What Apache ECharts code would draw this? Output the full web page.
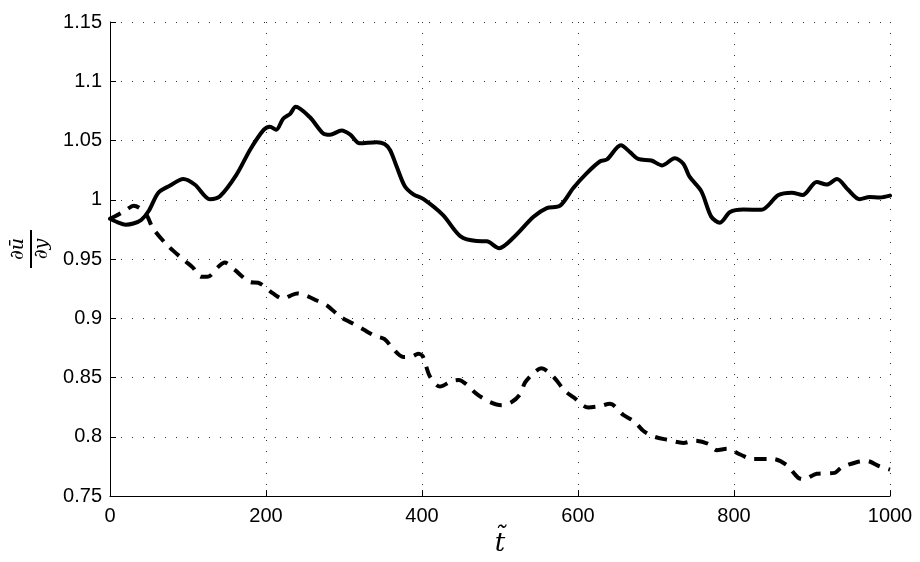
<!DOCTYPE html>
<html>
<head>
<meta charset="utf-8">
<script src="https://cdn.jsdelivr.net/npm/echarts@6/dist/echarts.min.js"></script>
<style>html,body{margin:0;padding:0;background:#fff;overflow:hidden}#c{width:920px;height:562px}</style>
</head>
<body>
<div id="c"></div>
<script>
// ---- data ----
var solidT = [0,10,20,30,40,50,62,77,94,109,128,141,162,180,197,205,213,222,231,238,256,273,282,297,308,320,342,352,359,367,378,389,402,427,449,470,483,499,517,543,560,577,594,611,628,637,655,667,677,694,708,724,735,743,758,771,782,795,812,835,857,874,888,906,919,932,946,961,974,987,1000];
var solidV = [0.984,0.981,0.979,0.980,0.983,0.991,1.006,1.012,1.0176,1.0127,1.0005,1.003,1.021,1.0427,1.059,1.0617,1.059,1.0684,1.0725,1.0785,1.0698,1.0562,1.0549,1.0584,1.0549,1.0476,1.0486,1.047,1.042,1.029,1.0114,1.0046,1.0005,0.987,0.9693,0.9652,0.965,0.9592,0.9679,0.9856,0.993,0.995,1.010,1.0223,1.0323,1.034,1.046,1.040,1.0345,1.0331,1.029,1.035,1.0305,1.0195,1.0073,0.9856,0.9807,0.9897,0.9918,0.9916,1.004,1.006,1.004,1.015,1.0128,1.0176,1.0087,1.0005,1.0024,1.0019,1.0035];
var dashT = [0,12,22,30,38,47,55,73,95,106,117,125,139,147,160,180,190,209,222,231,240,252,265,278,295,310,325,340,352,363,376,388,395,401,410,423,438,447,457,470,487,502,515,526,532,543,553,568,583,594,613,628,641,658,672,684,697,714,735,750,767,778,791,808,823,850,867,882,889,906,929,938,957,970,987,1000];
var dashV = [0.984,0.988,0.992,0.995,0.993,0.987,0.976,0.962,0.949,0.943,0.935,0.935,0.9435,0.947,0.9408,0.9305,0.930,0.921,0.9165,0.919,0.921,0.919,0.915,0.911,0.9014,0.896,0.8905,0.885,0.8825,0.8742,0.8674,0.868,0.8701,0.868,0.8511,0.8424,0.847,0.848,0.8443,0.8362,0.8294,0.8267,0.8294,0.8362,0.8457,0.8538,0.8579,0.8511,0.8389,0.8335,0.8248,0.8259,0.828,0.8185,0.813,0.8049,0.8003,0.7976,0.7949,0.7968,0.7941,0.7887,0.790,0.7851,0.7813,0.7813,0.7764,0.7656,0.7642,0.7688,0.7696,0.7742,0.7786,0.7797,0.775,0.7723];
var xTickLabels = ['0','200','400','600','800','1000'];
var yTickLabels = ['0.75','0.8','0.85','0.9','0.95','1','1.05','1.1','1.15'];

function pairs(t, v){ return t.map(function(x,i){ return [x, v[i]]; }); }

var chart = echarts.init(document.getElementById('c'), null, {renderer:'canvas', width:920, height:562});
var labelFont = {color:'#000', fontFamily:'Liberation Sans, Arial, sans-serif', fontSize:20};
var gridStyle = {show:true, lineStyle:{color:'#333', width:1, type:[1,10]}};
chart.setOption({
  animation:false,
  backgroundColor:'#fff',
  grid:{left:110, right:30, top:22, bottom:50, containLabel:false},
  xAxis:{
    type:'value', min:0, max:1000, interval:200,
    name:'t\u0303', nameLocation:'middle', nameGap:20,
    nameTextStyle:{fontFamily:'DejaVu Serif, serif', fontStyle:'italic', fontSize:26, color:'#000'},
    axisLine:{show:true, onZero:false, lineStyle:{color:'#000', width:1}},
    axisTick:{show:true, inside:true, length:6, lineStyle:{color:'#000'}},
    axisLabel:Object.assign({margin:10, formatter:function(v){ return xTickLabels[Math.round(v/200)]; }}, labelFont),
    splitLine:gridStyle
  },
  yAxis:{
    type:'value', min:0.75, max:1.15, interval:0.05,
    axisLine:{show:true, onZero:false, lineStyle:{color:'#000', width:1}},
    axisTick:{show:true, inside:true, length:6, lineStyle:{color:'#000'}},
    axisLabel:Object.assign({margin:8, formatter:function(v){
      var i = Math.round((v-0.75)/0.05); return yTickLabels[i];
    }}, labelFont),
    splitLine:gridStyle
  },
  series:[
    {type:'line', data:pairs(solidT, solidV), showSymbol:false, smooth:0.3,
     lineStyle:{color:'#000', width:4, cap:'round', join:'round'}},
    {type:'line', data:pairs(dashT, dashV), showSymbol:false, smooth:0.3,
     lineStyle:{color:'#000', width:4, type:[12,9], cap:'butt', join:'round'}}
  ],
  graphic:[{
    type:'group', x:31, y:249, rotation:Math.PI/2,
    children:[
      {type:'text', x:0, y:-3, style:{text:'\u2202\u016B', fontFamily:'DejaVu Serif, serif', fontStyle:'italic', fontSize:19, fill:'#000', align:'center', verticalAlign:'bottom'}},
      {type:'line', shape:{x1:-19, y1:0, x2:19, y2:0}, style:{stroke:'#000', lineWidth:2}},
      {type:'text', x:0, y:2, style:{text:'\u2202y', fontFamily:'DejaVu Serif, serif', fontStyle:'italic', fontSize:19, fill:'#000', align:'center', verticalAlign:'top'}}
    ]
  }]
});
</script>
</body>
</html>
